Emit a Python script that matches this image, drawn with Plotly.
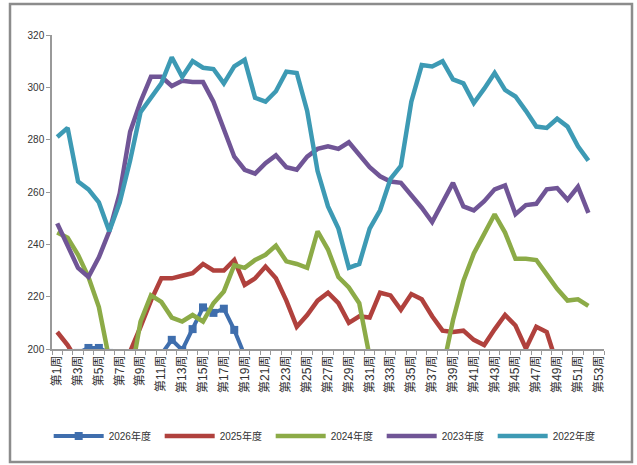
import plotly.graph_objects as go

weeks = [f"第{i}周" for i in range(1, 54)]

y2026 = [195, 196, 198.5, 200.4, 200.4, 198.5, 195, 194, 195, 196, 198, 203.5, 199.6,
         207.6, 215.9, 213.8, 215.4, 207.3, 197.5]
y2025 = [206.5, 201.5, 195, 192, 190, 191, 194, 199, 208.5, 218.5, 227, 227, 228, 229,
         232.5, 230, 230, 234, 224.5, 227, 231.5, 227, 218.5, 208.5, 213, 218.5, 221.5,
         217.5, 210, 212.5, 212, 221.5, 220.5, 215, 221, 219, 212.5, 207, 206.5, 207,
         203.5, 201.5, 207.5, 213, 209, 200.2, 208.5, 206.5, 194]
y2024 = [244.5, 242.5, 236, 227.5, 216, 196, 188, 188, 210.5, 220.5, 218, 212, 210.5,
         213, 210.5, 217.5, 222, 232, 231, 234, 236, 239.5, 233.5, 232.5, 231, 245, 238,
         227.5, 223.5, 217.5, 197, 190, 185, 183, 182, 184, 186, 192, 211, 226, 236.5,
         244, 251.5, 244.5, 234.5, 234.5, 234, 228.5, 223, 218.5, 219, 216.5]
y2023 = [248, 239, 231, 227.5, 235, 245, 259.5, 283, 294.5, 304, 304, 300.5, 302.5, 302,
         302, 294.5, 283.5, 273.5, 268.5, 267, 271, 274, 269.5, 268.5, 273.5, 276.5, 277.5,
         276.5, 279, 274, 269.5, 266, 264, 263.5, 259, 254, 248.5, 256, 263.5, 254.5, 253,
         256.5, 261, 262.5, 251.5, 255, 255.5, 261, 261.5, 257, 262, 252]
y2022 = [281, 284.5, 264, 261, 256, 245, 256, 272, 290.5, 296, 301.5, 311.5, 304, 310,
         307.5, 307, 301.5, 308, 310.5, 296, 294.5, 298.5, 306, 305.5, 291, 268, 254.5,
         246, 231, 232.5, 246, 253, 265, 270, 294.5, 308.5, 308, 310, 303, 301.5, 294,
         299.5, 305.5, 299, 296.5, 291, 285, 284.5, 288, 285, 277.5, 272]

series_names = ["2026年度", "2025年度", "2024年度", "2023年度", "2022年度"]
series_vals = [y2026, y2025, y2024, y2023, y2022]
colors = ["#3F6EAD", "#B0413D", "#8CAB47", "#705596", "#3D9AB4"]

FONT = "Liberation Sans, Noto Sans CJK SC, sans-serif"

fig = go.Figure()
for name, vals, col in zip(series_names, series_vals, colors):
    is_2026 = name == "2026年度"
    fig.add_trace(go.Scatter(
        x=weeks[:len(vals)], y=vals, name=name,
        mode="lines+markers" if is_2026 else "lines",
        line=dict(color=col, width=4.5 if not is_2026 else 4),
        marker=dict(symbol="square", size=8, color=col) if is_2026 else None,
    ))

fig.update_layout(
    width=637, height=465,
    margin=dict(l=52, r=33, t=35, b=116, autoexpand=False),
    paper_bgcolor="white", plot_bgcolor="white",
    font=dict(family=FONT, size=10, color="#333333"),
    showlegend=True,
    legend=dict(orientation="h", x=-0.006, y=-0.277, xanchor="left", yanchor="middle",
                entrywidth=46, entrywidthmode="pixels", itemwidth=50,
                tracegroupgap=0,
                font=dict(size=10, color="#333333"), bgcolor="rgba(0,0,0,0)"),
    xaxis=dict(type="category", categoryorder="array", categoryarray=weeks,
               range=[-0.5, 52.5], tickson="boundaries", ticks="outside", ticklen=4,
               tickmode="linear", tick0=0, dtick=1, ticklabelstep=2,
               tickcolor="#999999", showline=True, linecolor="#999999", linewidth=1.5,
               showgrid=False, zeroline=False, tickangle=-90, automargin=False,
               tickfont=dict(size=12, color="#333333")),
    yaxis=dict(range=[200, 320], dtick=20, ticks="outside", ticklen=4,
               tickcolor="#999999", showline=True, linecolor="#999999", linewidth=1.5,
               showgrid=False, zeroline=False, automargin=False,
               tickfont=dict(size=10, color="#333333")),
    shapes=[dict(type="rect", xref="paper", yref="paper",
                 x0=(10 - 52) / 552, x1=(632 - 52) / 552,
                 y0=(349 - 462) / 314, y1=(349 - 4) / 314,
                 line=dict(color="#8C8C8C", width=2.5), fillcolor="rgba(0,0,0,0)", layer="below")],
)

fig.write_html("out.html", config={"displayModeBar": False},
               post_script="document.body.style.margin='0';document.body.style.overflow='hidden';")
